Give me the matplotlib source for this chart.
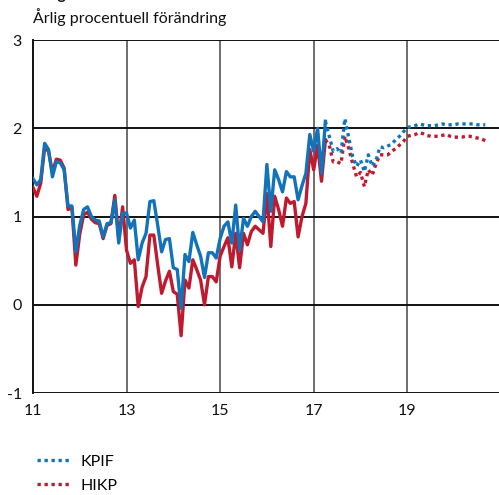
import matplotlib
matplotlib.use("Agg")
import matplotlib.pyplot as plt
import numpy as np
from matplotlib.lines import Line2D

plt.rcParams['font.family'] = ['Lato', 'DejaVu Sans']

title = "Diagram 1. KPIF och HIKP"
subtitle = "Årlig procentuell förändring"
series_names = ["KPIF", "HIKP"]
xticks = [11, 13, 15, 17, 19]
xtick_labels = ["11", "13", "15", "17", "19"]
yticks = [-1, 0, 1, 2, 3]
ytick_labels = ["-1", "0", "1", "2", "3"]

# Monthly outcomes Jan 2011 .. Apr 2017
kpif_outcome = [1.43, 1.36, 1.42, 1.83, 1.76, 1.45, 1.62, 1.61, 1.53, 1.12, 1.12, 0.60,
                0.90, 1.08, 1.11, 1.00, 0.96, 0.95, 0.77, 0.92, 0.93, 1.19, 0.70, 1.04,
                1.04, 0.87, 0.96, 0.51, 0.70, 0.81, 1.17, 1.18, 0.90, 0.60, 0.74, 0.75,
                0.42, 0.40, -0.04, 0.57, 0.49, 0.82, 0.68, 0.55, 0.31, 0.59, 0.59, 0.53,
                0.75, 0.89, 0.94, 0.70, 1.13, 0.62, 0.98, 0.89, 1.00, 1.06, 1.00, 0.94,
                1.59, 1.06, 1.53, 1.42, 1.28, 1.51, 1.45, 1.45, 1.19, 1.35, 1.49, 1.93,
                1.74, 2.00, 1.49, 2.08]
hikp_outcome = [1.33, 1.23, 1.38, 1.78, 1.74, 1.50, 1.65, 1.64, 1.55, 1.08, 1.10, 0.45,
                0.80, 1.02, 1.05, 0.97, 0.93, 0.92, 0.75, 0.90, 0.92, 1.24, 0.75, 1.11,
                0.62, 0.47, 0.51, -0.02, 0.20, 0.32, 0.79, 0.79, 0.45, 0.13, 0.27, 0.38,
                0.15, 0.12, -0.35, 0.28, 0.19, 0.51, 0.40, 0.28, 0.00, 0.32, 0.32, 0.26,
                0.55, 0.66, 0.76, 0.43, 0.81, 0.42, 0.81, 0.68, 0.83, 0.89, 0.85, 0.81,
                1.26, 0.66, 1.23, 1.08, 0.89, 1.21, 1.15, 1.17, 0.77, 1.00, 1.15, 1.76,
                1.53, 1.81, 1.40, 1.87]
# Monthly forecasts Apr 2017 .. Sep 2020
kpif_forecast = [2.08, 1.91, 1.74, 1.77, 1.72, 2.11, 1.89, 1.68, 1.57, 1.64, 1.51, 1.70,
                 1.57, 1.64, 1.79, 1.78, 1.80, 1.82, 1.87, 1.91, 1.96, 2.01, 2.02, 2.03,
                 2.05, 2.04, 2.03, 2.03, 2.03, 2.04, 2.05, 2.04, 2.04, 2.04, 2.05, 2.05,
                 2.05, 2.05, 2.05, 2.04, 2.04, 2.04]
hikp_forecast = [1.87, 1.81, 1.62, 1.62, 1.60, 1.91, 1.77, 1.60, 1.45, 1.50, 1.34, 1.53,
                 1.47, 1.60, 1.70, 1.70, 1.70, 1.74, 1.77, 1.81, 1.85, 1.91, 1.92, 1.93,
                 1.95, 1.94, 1.92, 1.91, 1.91, 1.91, 1.92, 1.93, 1.91, 1.90, 1.90, 1.90,
                 1.91, 1.91, 1.90, 1.89, 1.88, 1.86]

blue = '#1273bb'
red = '#c01a2f'
fs = 11.5

x_out = 11 + np.arange(len(kpif_outcome)) / 12.0
start_fc = len(kpif_outcome) - 1
x_fc = 11 + (start_fc + np.arange(len(kpif_forecast))) / 12.0

fig = plt.figure(figsize=(4.99, 4.95), dpi=100)
ax = fig.add_axes([0.066, 0.206, 0.934, 0.713])

for xv in xticks[1:]:
    ax.axvline(xv, color='#555555', lw=1.2, zorder=1)
for yv in yticks:
    ax.axhline(yv, color='#111111', lw=1.4, zorder=1)

lw = 2.4
dots = (0, (1, 1.1))
ax.plot(x_out, hikp_outcome, color=red, lw=lw, zorder=3)
ax.plot(x_out, kpif_outcome, color=blue, lw=lw, zorder=4)
ax.plot(x_fc, hikp_forecast, color=red, lw=lw, ls=dots, zorder=3)
ax.plot(x_fc, kpif_forecast, color=blue, lw=lw, ls=dots, zorder=4)

ax.set_xlim(11, 20.96)
ax.set_ylim(-1, 3)
ax.set_xticks(xticks)
ax.set_xticklabels(xtick_labels)
ax.set_yticks(yticks)
ax.set_yticklabels(ytick_labels)
ax.tick_params(axis='both', length=0, labelsize=fs, colors='#111111')
ax.tick_params(axis='x', pad=8)
ax.tick_params(axis='y', pad=8)
for s in ['top', 'right', 'bottom']:
    ax.spines[s].set_visible(False)
ax.spines['left'].set_color('#111111')
ax.spines['left'].set_linewidth(1.4)

fig.text(0.066, 0.9535, subtitle, fontsize=fs, color='#111111', va='baseline', ha='left')
fig.text(0.066, 1.003, title, fontsize=fs, fontweight='bold', color='#111111', va='baseline', ha='left')

handles = [Line2D([], [], color=blue, lw=lw, ls=dots),
           Line2D([], [], color=red, lw=lw, ls=dots)]
fig.legend(handles, series_names, loc='upper left', bbox_to_anchor=(0.074, 0.082),
           frameon=False, fontsize=fs, handlelength=2.1, handletextpad=0.65,
           labelspacing=0.62, borderpad=0, borderaxespad=0)

fig.savefig('out.png', dpi=100)
